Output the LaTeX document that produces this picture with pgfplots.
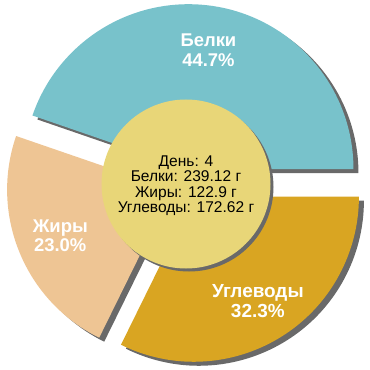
\documentclass[border=0pt]{standalone}
\usepackage{fontspec}
\setmainfont{Liberation Sans}
\usepackage{pgfplots}
\pgfplotsset{compat=1.18}
\usetikzlibrary{calc}
\definecolor{cB}{RGB}{120,194,203}
\definecolor{cZ}{RGB}{238,197,148}
\definecolor{cU}{RGB}{217,165,34}
\definecolor{cC}{RGB}{232,214,120}
\definecolor{sh}{RGB}{105,105,105}
\begin{document}
\begin{tikzpicture}
% data (grams)
\def\vB{239.12}\def\vZ{122.9}\def\vU{172.62}
\pgfmathsetmacro\tot{\vB+\vZ+\vU}
\pgfmathsetmacro\aB{\vB/\tot*360}
\pgfmathsetmacro\aZ{\aB+\vZ/\tot*360}
\pgfmathsetmacro\mB{\aB/2}
\pgfmathsetmacro\mZ{(\aB+\aZ)/2}
\pgfmathsetmacro\mU{(\aZ+360)/2}
\begin{axis}[hide axis, scale only axis, width=370bp, height=370bp,
  xmin=0, xmax=370, ymin=0, ymax=370, clip=false, anchor=south west, at={(0,0)}]
% shadows
\fill[sh] ($(axis cs:191,182)+(\mB:15bp)$) -- ++(0:165bp) arc[start angle=0,end angle=\aB,radius=165bp] -- cycle;
\fill[sh] ($(axis cs:191,182)+(\mZ:15bp)$) -- ++(\aB:165bp) arc[start angle=\aB,end angle=\aZ,radius=165bp] -- cycle;
\fill[sh] ($(axis cs:191,182)+(\mU:15bp)$) -- ++(\aZ:165bp) arc[start angle=\aZ,end angle=360,radius=165bp] -- cycle;
% sectors
\fill[cB] ($(axis cs:186,186)+(\mB:15bp)$) -- ++(0:165bp) arc[start angle=0,end angle=\aB,radius=165bp] -- cycle;
\fill[cZ] ($(axis cs:186,186)+(\mZ:15bp)$) -- ++(\aB:165bp) arc[start angle=\aB,end angle=\aZ,radius=165bp] -- cycle;
\fill[cU] ($(axis cs:186,186)+(\mU:15bp)$) -- ++(\aZ:165bp) arc[start angle=\aZ,end angle=360,radius=165bp] -- cycle;
% labels
\node[text=white, align=center, font=\fontsize{18.5}{20}\selectfont\bfseries] at ($(axis cs:186,186)+(\mB:136bp)$) {Белки\\44.7\%};
\node[text=white, align=center, font=\fontsize{18.5}{20}\selectfont\bfseries] at ($(axis cs:186,186)+(\mZ:136bp)$) {Жиры\\23.0\%};
\node[text=white, align=center, font=\fontsize{19}{20}\selectfont\bfseries] at ($(axis cs:186,184)+(\mU:136bp)$) {Углеводы\\32.3\%};
% centre
\fill[sh] (axis cs:189,183) circle[radius=84.5bp];
\fill[cC] (axis cs:186,186) circle[radius=84.5bp];
\node[align=center, font=\fontsize{15.6}{15.5}\selectfont, inner sep=0pt] at (axis cs:186,184.5) {День: 4\\Белки: 239.12 г\\Жиры: 122.9 г\\Углеводы: 172.62 г};
\end{axis}
\pgfresetboundingbox
\useasboundingbox (0,0) rectangle (370bp,370bp);
\end{tikzpicture}
\end{document}
